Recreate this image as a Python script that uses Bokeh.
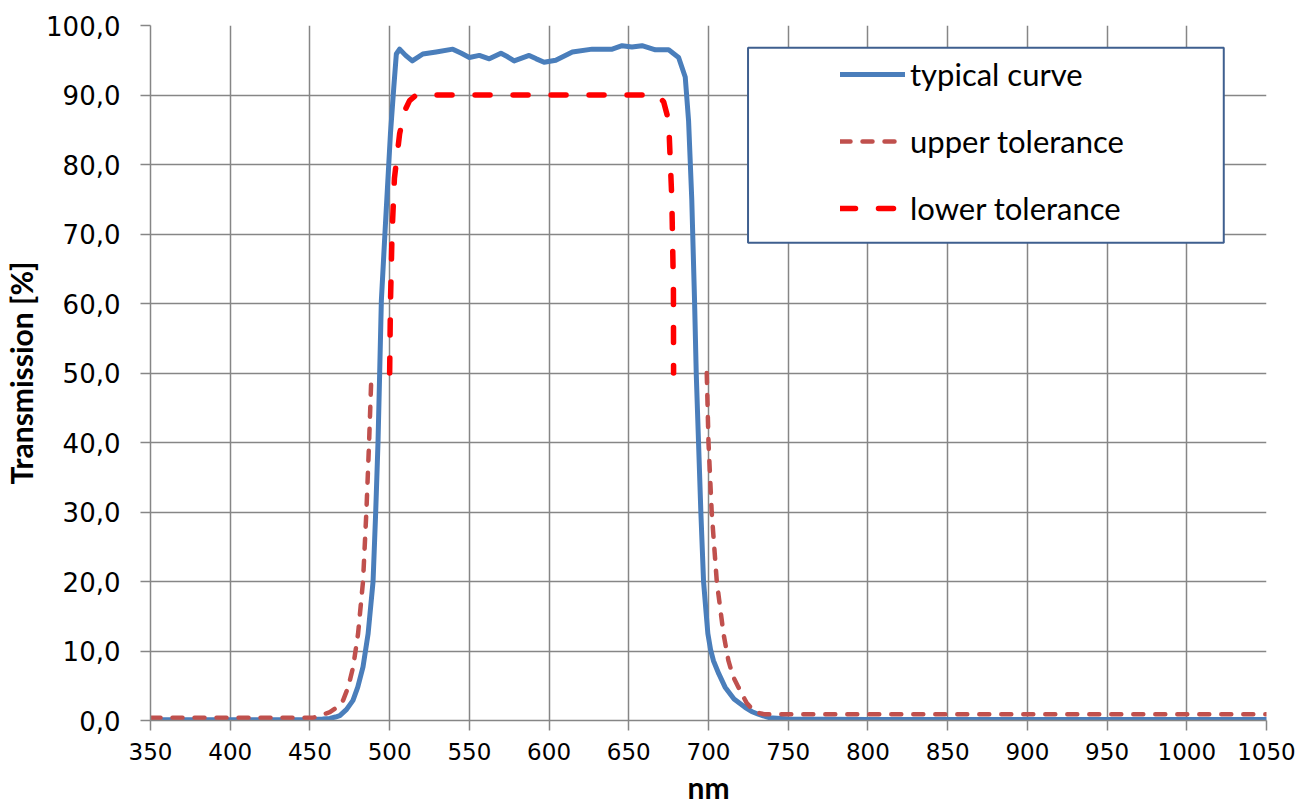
import math
from bokeh.plotting import figure
from bokeh.models import (FixedTicker, Legend, LegendItem, BoxAnnotation, Range1d)
from bokeh.embed import file_html
from bokeh.resources import INLINE

# ---- data ----
typ_nm = [350, 400, 450, 458, 462.5, 466, 468.75, 473, 477, 480, 483.3, 486.5, 489.6, 491.25, 492.7, 493.75,
          494.8, 497.5, 500.5, 502.6, 504.2, 506.25, 510, 514.2, 520.8, 529.2, 539.6, 545,
          550, 556.25, 562.5, 569.8, 574, 578.1, 587.5, 592, 596.9, 604.2, 614.6, 627,
          639.6, 645.8, 652, 658.3, 666.7, 675, 681.25, 685.4, 687.5, 689.5, 691.25, 692.3,
          693.75, 695.2, 696.9, 698.5, 699.6, 701.3, 703.1, 706.5, 710.4, 716, 722.9, 727, 731.25, 738, 750,
          800, 900, 1050]
typ_T = [0.1, 0.1, 0.1, 0.2, 0.3, 0.5, 0.7, 1.6, 2.9, 4.8, 7.7, 12.5, 20, 30, 40, 50,
         60.4, 72, 84.4, 91.1, 95.9, 96.6, 95.7, 94.9, 95.9, 96.2, 96.6, 96.0,
         95.4, 95.7, 95.2, 96.0, 95.5, 94.9, 95.7, 95.2, 94.7, 95.0, 96.2, 96.6,
         96.6, 97.1, 96.9, 97.1, 96.5, 96.5, 95.4, 92.6, 86.3, 75, 60.4, 50,
         40, 30, 20, 15.5, 12.5, 10.2, 8.6, 6.7, 4.8, 3.1, 1.9, 1.3, 0.9, 0.4, 0.2,
         0.15, 0.15, 0.15]

up_nm = [350, 452, 456, 462.5, 467, 470.8, 474, 477.1, 480.2, 483.3, 485.4, 487.1, 488.6, float("nan"),
         698.9, 700, 702, 705.2, 709.4, 712.5, 715.5, 718.75, 724, 729.2, 735, 1050]
up_T = [0.4, 0.4, 0.7, 1.2, 1.9, 2.9, 4.8, 7.7, 12.5, 20, 30, 40, 50, float("nan"),
        50, 40, 30, 20, 12.5, 8.6, 6.3, 4.8, 2.5, 1.2, 0.9, 0.9]

lo_nm = [500, 500.5, 501.5, 503, 506.25, 509, 512.5, 516.7, 600, 668, 671.9, 675, 677, 678, 678.1]
lo_T = [50, 60, 70, 78, 84.4, 87.5, 89.2, 90, 90, 90, 89, 86.3, 75, 62, 50]

x_ticks = list(range(350, 1051, 50))
y_ticks = list(range(0, 101, 10))
y_tick_labels = ["0,0", "10,0", "20,0", "30,0", "40,0", "50,0", "60,0", "70,0", "80,0", "90,0", "100,0"]
legend_labels = ["typical curve", "upper tolerance", "lower tolerance"]

GRID = "#868686"

p = figure(frame_width=1116, frame_height=695, output_backend="svg", toolbar_location=None,
           x_range=Range1d(350, 1050), y_range=Range1d(0, 100),
           min_border_left=142, min_border_top=25, min_border_right=32, min_border_bottom=76)
p.outline_line_color = None
p.background_fill_color = "white"

for ax in (p.xaxis[0], p.yaxis[0]):
    ax.axis_line_color = GRID
    ax.axis_line_width = 1.5
    ax.major_tick_line_color = GRID
    ax.major_tick_line_width = 1.5
    ax.major_tick_out = 10
    ax.major_tick_in = 0
    ax.minor_tick_line_color = None
    ax.major_label_text_font = "DejaVu Sans"
    ax.major_label_text_color = "black"
    ax.axis_label_text_font = "Lato"
    ax.axis_label_text_font_style = "bold"
    ax.axis_label_text_font_size = "30px"
    ax.axis_label_text_color = "black"

p.xaxis.ticker = FixedTicker(ticks=x_ticks)
p.yaxis.ticker = FixedTicker(ticks=y_ticks)
p.yaxis.major_label_overrides = {t: l for t, l in zip(y_ticks, y_tick_labels)}
p.xaxis.major_label_text_font_size = "23px"
p.yaxis.major_label_text_font_size = "26px"
p.xaxis.major_label_standoff = 12
p.yaxis.major_label_standoff = 20
p.xaxis.axis_label = "nm"
p.yaxis.axis_label = "Transmission [%]"
p.xaxis.axis_label_standoff = 6
p.yaxis.axis_label_standoff = 4

p.xgrid.ticker = FixedTicker(ticks=x_ticks)
p.ygrid.ticker = FixedTicker(ticks=y_ticks)
for g in (p.xgrid[0], p.ygrid[0]):
    g.grid_line_color = GRID
    g.grid_line_width = 1.5

r_typ = p.line(typ_nm, typ_T, line_color="#4A7EBB", line_width=5, line_join="round", line_cap="round")
r_up = p.line(up_nm, up_T, line_color="#C0504D", line_width=4.5, line_dash="10 12", line_cap="round")
r_lo = p.line(lo_nm, lo_T, line_color="#FF0000", line_width=5.5, line_dash="15 23", line_cap="round")

box = BoxAnnotation(left=724.8, right=1023.2, top=96.8, bottom=68.75,
                    fill_color="white", fill_alpha=1.0, line_color="#3F5F8F",
                    line_alpha=1.0, line_width=2)
p.add_layout(box)

legend = Legend(items=[LegendItem(label=legend_labels[0], renderers=[r_typ]),
                       LegendItem(label=legend_labels[1], renderers=[r_up]),
                       LegendItem(label=legend_labels[2], renderers=[r_lo])],
                location=(690, 493), orientation="vertical",
                padding=0, margin=0, spacing=29, glyph_width=65, glyph_height=36,
                label_height=36, label_standoff=5, label_text_font="Lato",
                label_text_font_size="31px", label_text_color="black",
                border_line_alpha=0, background_fill_alpha=0)
p.add_layout(legend)

open("out.html", "w").write(file_html(p, INLINE))
